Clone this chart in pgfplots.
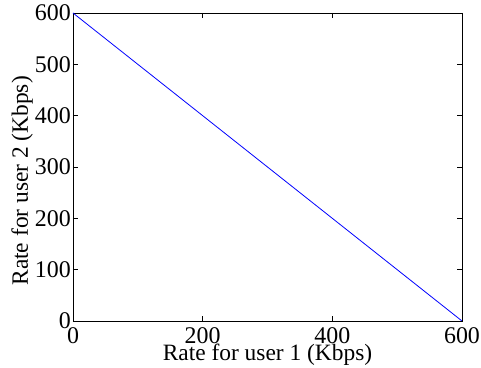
\documentclass[border=0pt]{standalone}
\usepackage{fontspec}
\setmainfont{Liberation Serif}
\usepackage{pgfplots}
\pgfplotsset{compat=1.18}
\usetikzlibrary{calc}
\begin{document}
\begin{tikzpicture}
\begin{axis}[
  scale only axis,
  width=389bp, height=308bp,
  xmin=0, xmax=600, ymin=0, ymax=600,
  xtick={0,200,400,600}, ytick={0,100,200,300,400,500,600},
  tick align=inside,
  tick pos=both,
  major tick length=5bp,
  axis line style={black, line width=0.8pt},
  tick style={black, line width=0.6pt},
  font=\fontsize{23.5}{25}\selectfont,
  ticklabel style={font=\fontsize{24}{26}\selectfont, inner sep=0pt},
  /pgf/number format/assume math mode=true,
  xticklabel style={yshift=-6bp},
  yticklabel style={xshift=-2bp},
  xlabel={Rate for user 1 (Kbps)},
  ylabel={Rate for user 2 (Kbps)},
  xlabel style={inner sep=0pt, at={(axis description cs:0.5,-0.11)}, anchor=center},
  ylabel style={inner sep=0pt, at={(axis description cs:-0.131,0.455)}, anchor=center},
]
\addplot[blue, line width=0.8pt] coordinates {(0,600) (600,0)};
\end{axis}
\useasboundingbox ($(current axis.south west)+(-73bp,-47bp)$) rectangle ($(current axis.north east)+(19bp,13bp)$);
\end{tikzpicture}
\end{document}
